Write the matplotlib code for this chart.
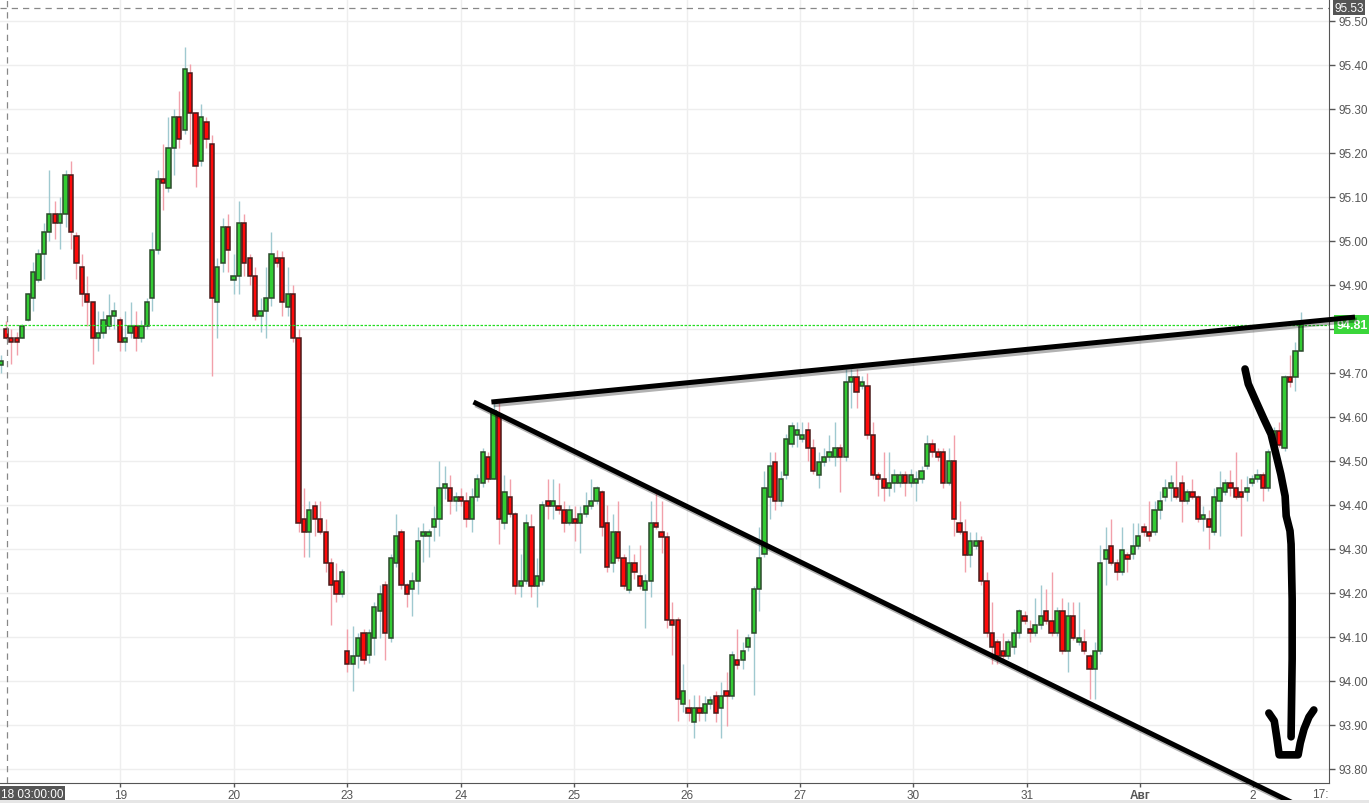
import numpy as np
import matplotlib
matplotlib.use("Agg")
import matplotlib.pyplot as plt
import matplotlib.patheffects as pe
from matplotlib.patches import Rectangle
from matplotlib.transforms import blended_transform_factory

# hourly candles (index = bar number)
opens = [
    94.718, 94.800, 94.780, 94.780, 94.780, 94.820, 94.870, 94.911, 94.970, 95.020,
    95.061, 95.041, 95.061, 95.150, 95.011, 94.941, 94.880, 94.861, 94.780, 94.791,
    94.807, 94.830, 94.820, 94.770, 94.791, 94.807, 94.780, 94.807, 94.870, 94.980,
    95.141, 95.120, 95.211, 95.282, 95.252, 95.382, 95.291, 95.182, 95.270, 95.220,
    94.861, 94.950, 95.032, 94.911, 94.920, 95.041, 94.961, 94.920, 94.830, 94.841,
    94.870, 94.961, 94.961, 94.850, 94.880, 94.780, 94.368, 94.339, 94.398, 94.368,
    94.339, 94.268, 94.227, 94.198, 94.068, 94.039, 94.057, 94.109, 94.059, 94.098,
    94.159, 94.218, 94.098, 94.268, 94.339, 94.218, 94.209, 94.227, 94.330, 94.330,
    94.350, 94.368, 94.439, 94.439, 94.409, 94.418, 94.409, 94.368, 94.418, 94.450,
    94.509, 94.459, 94.607, 94.359, 94.418, 94.380, 94.216, 94.227, 94.350, 94.216,
    94.227, 94.409, 94.398, 94.398, 94.389, 94.359, 94.368, 94.359, 94.380, 94.398,
    94.409, 94.430, 94.359, 94.268, 94.339, 94.280, 94.207, 94.268, 94.239, 94.207,
    94.227, 94.359, 94.339, 94.327, 94.139, 94.139, 93.948, 93.939, 93.907, 93.939,
    93.927, 93.948, 93.966, 93.939, 93.977, 93.966, 94.048, 94.048, 94.077, 94.109,
    94.209, 94.289, 94.418, 94.498, 94.409, 94.468, 94.539, 94.559, 94.550, 94.570,
    94.530, 94.468, 94.498, 94.509, 94.509, 94.530, 94.509, 94.680, 94.691, 94.670,
    94.670, 94.559, 94.468, 94.459, 94.439, 94.450, 94.450, 94.468, 94.450, 94.450,
    94.459, 94.489, 94.539, 94.520, 94.520, 94.450, 94.500, 94.359, 94.339, 94.286,
    94.307, 94.318, 94.227, 94.109, 94.089, 94.068, 94.057, 94.077, 94.109, 94.148,
    94.118, 94.109, 94.127, 94.159, 94.136, 94.109, 94.159, 94.068, 94.148, 94.089,
    94.089, 94.057, 94.027, 94.068, 94.277, 94.307, 94.268, 94.248, 94.286, 94.289,
    94.307, 94.350, 94.339, 94.339, 94.389, 94.418, 94.439, 94.439, 94.450, 94.409,
    94.430, 94.418, 94.368, 94.368, 94.339, 94.409, 94.430, 94.450, 94.439, 94.430,
    94.430, 94.450, 94.459, 94.468, 94.439, 94.539, 94.568, 94.530, 94.691, 94.691,
    94.750,
]
closes = [
    94.727, 94.780, 94.770, 94.770, 94.807, 94.880, 94.930, 94.970, 95.020, 95.061,
    95.041, 95.061, 95.150, 95.020, 94.950, 94.880, 94.861, 94.780, 94.791, 94.820,
    94.830, 94.841, 94.770, 94.780, 94.807, 94.780, 94.807, 94.861, 94.980, 95.141,
    95.132, 95.211, 95.282, 95.232, 95.391, 95.291, 95.170, 95.282, 95.232, 94.870,
    94.941, 95.032, 94.980, 94.920, 95.041, 94.950, 94.920, 94.830, 94.841, 94.870,
    94.970, 94.950, 94.861, 94.880, 94.780, 94.359, 94.339, 94.389, 94.368, 94.339,
    94.268, 94.218, 94.198, 94.248, 94.039, 94.057, 94.098, 94.048, 94.109, 94.168,
    94.198, 94.109, 94.280, 94.330, 94.218, 94.198, 94.227, 94.318, 94.339, 94.339,
    94.368, 94.439, 94.448, 94.409, 94.418, 94.409, 94.368, 94.418, 94.459, 94.520,
    94.459, 94.614, 94.368, 94.430, 94.380, 94.216, 94.227, 94.359, 94.216, 94.239,
    94.400, 94.398, 94.409, 94.389, 94.359, 94.389, 94.359, 94.380, 94.398, 94.409,
    94.439, 94.350, 94.259, 94.339, 94.280, 94.216, 94.268, 94.248, 94.216, 94.227,
    94.359, 94.350, 94.327, 94.139, 94.127, 93.959, 93.977, 93.927, 93.939, 93.927,
    93.948, 93.957, 93.927, 93.966, 93.966, 94.059, 94.036, 94.068, 94.098, 94.209,
    94.280, 94.439, 94.489, 94.409, 94.459, 94.550, 94.580, 94.570, 94.559, 94.530,
    94.477, 94.498, 94.509, 94.520, 94.530, 94.509, 94.680, 94.691, 94.657, 94.680,
    94.559, 94.468, 94.459, 94.439, 94.450, 94.468, 94.468, 94.450, 94.468, 94.459,
    94.477, 94.539, 94.520, 94.509, 94.450, 94.500, 94.368, 94.339, 94.286, 94.318,
    94.318, 94.227, 94.109, 94.077, 94.057, 94.057, 94.089, 94.109, 94.159, 94.136,
    94.109, 94.127, 94.148, 94.136, 94.109, 94.159, 94.068, 94.148, 94.098, 94.098,
    94.068, 94.027, 94.068, 94.268, 94.298, 94.268, 94.248, 94.298, 94.277, 94.307,
    94.330, 94.339, 94.330, 94.389, 94.409, 94.439, 94.450, 94.418, 94.409, 94.430,
    94.418, 94.368, 94.377, 94.350, 94.418, 94.439, 94.450, 94.439, 94.418, 94.418,
    94.439, 94.459, 94.468, 94.439, 94.520, 94.568, 94.536, 94.691, 94.680, 94.750,
    94.810,
]
highs = [
    94.741, 94.818, 94.800, 94.793, 94.811, 94.882, 94.952, 94.982, 95.041, 95.161,
    95.091, 95.100, 95.161, 95.182, 95.020, 94.970, 94.920, 94.861, 94.841, 94.841,
    94.880, 94.861, 94.827, 94.841, 94.861, 94.841, 94.820, 94.870, 95.020, 95.161,
    95.220, 95.282, 95.300, 95.341, 95.441, 95.402, 95.293, 95.311, 95.282, 95.241,
    94.961, 95.052, 95.061, 94.970, 95.091, 95.061, 94.970, 94.941, 94.870, 94.941,
    95.020, 94.980, 94.977, 94.941, 94.900, 94.800, 94.439, 94.409, 94.409, 94.409,
    94.368, 94.280, 94.268, 94.255, 94.118, 94.125, 94.109, 94.118, 94.118, 94.180,
    94.218, 94.227, 94.289, 94.380, 94.345, 94.223, 94.248, 94.350, 94.359, 94.345,
    94.398, 94.500, 94.489, 94.468, 94.430, 94.439, 94.430, 94.439, 94.470, 94.530,
    94.520, 94.634, 94.634, 94.468, 94.459, 94.384, 94.289, 94.380, 94.380, 94.280,
    94.409, 94.459, 94.459, 94.450, 94.409, 94.400, 94.398, 94.398, 94.430, 94.459,
    94.443, 94.434, 94.400, 94.380, 94.409, 94.289, 94.309, 94.289, 94.309, 94.243,
    94.409, 94.427, 94.409, 94.339, 94.180, 94.145, 94.039, 93.959, 93.968, 93.968,
    93.966, 93.966, 93.977, 93.998, 94.020, 94.068, 94.118, 94.089, 94.107, 94.216,
    94.350, 94.477, 94.520, 94.520, 94.477, 94.561, 94.589, 94.589, 94.589, 94.589,
    94.550, 94.520, 94.530, 94.559, 94.589, 94.539, 94.709, 94.709, 94.709, 94.693,
    94.700, 94.589, 94.475, 94.520, 94.520, 94.482, 94.477, 94.477, 94.482, 94.477,
    94.489, 94.559, 94.550, 94.530, 94.530, 94.530, 94.559, 94.409, 94.368, 94.339,
    94.339, 94.330, 94.248, 94.180, 94.095, 94.109, 94.095, 94.118, 94.164, 94.159,
    94.139, 94.189, 94.218, 94.209, 94.248, 94.168, 94.189, 94.180, 94.180, 94.180,
    94.118, 94.061, 94.089, 94.309, 94.350, 94.368, 94.277, 94.350, 94.293, 94.359,
    94.359, 94.359, 94.409, 94.409, 94.432, 94.459, 94.468, 94.500, 94.468, 94.436,
    94.459, 94.423, 94.398, 94.389, 94.439, 94.477, 94.459, 94.480, 94.520, 94.459,
    94.466, 94.468, 94.482, 94.475, 94.527, 94.577, 94.589, 94.695, 94.741, 94.770,
    94.839,
]
lows = [
    94.700, 94.777, 94.720, 94.741, 94.780, 94.818, 94.841, 94.907, 94.914, 95.000,
    95.005, 94.982, 95.032, 94.982, 94.914, 94.852, 94.807, 94.720, 94.750, 94.780,
    94.800, 94.800, 94.750, 94.750, 94.780, 94.750, 94.770, 94.800, 94.841, 94.970,
    95.070, 95.111, 95.150, 95.211, 95.243, 95.220, 95.123, 95.170, 95.211, 94.693,
    94.780, 94.930, 94.930, 94.880, 94.880, 94.920, 94.900, 94.820, 94.793, 94.780,
    94.852, 94.941, 94.830, 94.830, 94.770, 94.339, 94.282, 94.282, 94.330, 94.334,
    94.248, 94.127, 94.180, 94.191, 94.020, 93.977, 94.030, 94.039, 94.041, 94.059,
    94.098, 94.048, 94.089, 94.259, 94.209, 94.168, 94.148, 94.198, 94.270, 94.282,
    94.318, 94.330, 94.414, 94.380, 94.386, 94.398, 94.350, 94.339, 94.409, 94.441,
    94.452, 94.459, 94.311, 94.345, 94.373, 94.198, 94.191, 94.220, 94.191, 94.168,
    94.218, 94.368, 94.368, 94.380, 94.339, 94.355, 94.318, 94.291, 94.373, 94.391,
    94.402, 94.330, 94.248, 94.248, 94.273, 94.209, 94.200, 94.232, 94.209, 94.120,
    94.191, 94.345, 94.291, 94.120, 94.059, 93.909, 93.930, 93.909, 93.870, 93.909,
    93.909, 93.936, 93.907, 93.870, 93.898, 93.959, 94.027, 94.027, 94.068, 93.968,
    94.159, 94.282, 94.368, 94.389, 94.398, 94.459, 94.532, 94.532, 94.543, 94.500,
    94.470, 94.439, 94.489, 94.500, 94.489, 94.430, 94.500, 94.620, 94.620, 94.664,
    94.550, 94.459, 94.420, 94.409, 94.420, 94.430, 94.441, 94.420, 94.441, 94.409,
    94.450, 94.482, 94.509, 94.500, 94.439, 94.445, 94.330, 94.334, 94.248, 94.259,
    94.300, 94.218, 94.100, 94.039, 94.039, 94.050, 94.050, 94.061, 94.098, 94.130,
    94.089, 94.102, 94.118, 94.130, 94.102, 94.102, 94.061, 94.020, 94.093, 94.082,
    94.061, 93.959, 93.959, 94.061, 94.218, 94.264, 94.230, 94.241, 94.248, 94.277,
    94.300, 94.330, 94.318, 94.332, 94.368, 94.409, 94.409, 94.414, 94.361, 94.402,
    94.414, 94.361, 94.341, 94.300, 94.332, 94.330, 94.423, 94.420, 94.414, 94.330,
    94.409, 94.443, 94.452, 94.409, 94.432, 94.532, 94.532, 94.523, 94.668, 94.659,
    94.750,
]

day_pos = [22.1, 43.0, 63.9, 84.9, 105.8, 126.7, 147.6, 168.5, 189.4, 210.3, 231.2]
day_labels = ["19", "20", "23", "24", "25", "26", "27", "30", "31", "Авг", "2"]
y_ticks = [93.8, 93.9, 94.0, 94.1, 94.2, 94.3, 94.4, 94.5, 94.6, 94.7,
           94.8, 94.9, 95.0, 95.1, 95.2, 95.3, 95.4, 95.5]
last_price = 94.81
cross_price = 95.53
cross_bar = 1.1

# hand drawn marks (bar index, price)
upper_line_x = [90.6, 250.0]
upper_line_y = [94.634, 94.827]
lower_line_x = [87.3, 239.3]
lower_line_y = [94.634, 93.718]
arrow_x = [229.7, 230.3, 231.7, 233.2, 234.5, 235.4, 236.3, 237.1, 237.3, 238.0,
           238.2, 238.4, 238.4, 238.2]
arrow_y = [94.709, 94.675, 94.636, 94.595, 94.561, 94.516, 94.470, 94.420, 94.375,
           94.341, 94.311, 94.186, 94.050, 93.873]
hook_x = [234.1, 235.1, 235.6, 236.0, 239.5, 239.9, 240.6, 241.5, 242.4]
hook_y = [93.927, 93.909, 93.868, 93.832, 93.832, 93.859, 93.891, 93.918, 93.934]

GREEN = "#33cc33"
RED = "#ff0a0a"
FONT = "Liberation Sans"
FS = 8.5

fig = plt.figure(figsize=(13.69, 8.04), dpi=100)
ax = fig.add_axes([0, 20 / 804, 1329 / 1369, 784 / 804])

o = np.array(opens)
c = np.array(closes)
h = np.array(highs)
l = np.array(lows)
x = np.arange(len(o))
up = c >= o

ax.vlines(x[up], l[up], h[up], color="#9fc9d0", lw=1, zorder=2)
ax.vlines(x[~up], l[~up], h[~up], color="#f2a0aa", lw=1, zorder=2)

bot = np.minimum(o, c)
hgt = np.maximum(np.abs(c - o), 0.006)
ax.bar(x[up], hgt[up], bottom=bot[up], width=0.78, color=GREEN,
       edgecolor="#2c4a2c", linewidth=1.1, zorder=3)
ax.bar(x[~up], hgt[~up], bottom=bot[~up], width=0.78, color=RED,
       edgecolor="#4a1a1a", linewidth=1.1, zorder=3)

ax.set_xlim(-0.1, 245.2)
ax.set_ylim(93.768, 95.55)

ax.yaxis.tick_right()
ax.set_yticks(y_ticks)
# the 94.80 label sits under the last-price badge
ax.set_yticklabels(["" if abs(v - 94.8) < 1e-6 else "%.2f" % v for v in y_ticks])
ax.set_xticks(day_pos)
ax.set_xticklabels(day_labels)
for t in ax.get_xticklabels():
    if t.get_text() == "Авг":
        t.set_fontweight("bold")
ax.tick_params(axis="y", direction="out", length=4, pad=3, labelsize=FS,
               colors="#555555", width=1)
ax.tick_params(axis="x", direction="out", length=3, pad=1.5, labelsize=FS,
               colors="#555555", width=1)
for t in ax.get_yticklabels() + ax.get_xticklabels():
    t.set_fontfamily(FONT)

ax.grid(True, color="#eeeeee", lw=1, zorder=0)
for s in ["top", "left"]:
    ax.spines[s].set_visible(False)
ax.spines["right"].set_color("#555555")
ax.spines["bottom"].set_color("#555555")

# crosshair + last price line
ax.axhline(cross_price, color="#888888", lw=0.9, ls=(0, (5, 4)), zorder=4)
ax.axvline(cross_bar, color="#888888", lw=0.9, ls=(0, (5, 4)), zorder=4)
ax.axhline(last_price, color="#22dd22", lw=0.9, ls=(0, (2, 1.2)), zorder=4)

tr = blended_transform_factory(ax.transAxes, ax.transData)
ax.text(1.004, cross_price, "%.2f" % cross_price, transform=tr, va="center", ha="left",
        fontsize=FS, color="white", fontfamily=FONT, clip_on=False,
        bbox=dict(boxstyle="square,pad=0.12", fc="#555555", ec="none"), zorder=6)
ax.text(1.006, last_price, "%.2f" % last_price, transform=tr, va="center", ha="left",
        fontsize=9, color="white", fontweight="bold", fontfamily=FONT,
        clip_on=False, bbox=dict(boxstyle="square,pad=0.25", fc="#3ad63a", ec="none"),
        zorder=6)

trx = blended_transform_factory(ax.transData, ax.transAxes)
ax.text(0.0, -0.006, "18 03:00:00", transform=trx, va="top", ha="left", fontsize=FS,
        color="white", fontfamily=FONT, clip_on=False,
        bbox=dict(boxstyle="square,pad=0.15", fc="#555555", ec="none"), zorder=6)
ax.text(245.2, -0.006, "17:", transform=trx, va="top", ha="right", fontsize=FS,
        color="#555555", fontfamily=FONT, clip_on=False)

fig.patches.append(Rectangle((0, 0), 1, 3 / 804, transform=fig.transFigure,
                             fc="#e6e6e6", ec="none"))

shadow = [pe.SimpleLineShadow(offset=(1.5, -2), alpha=0.3), pe.Normal()]
ax.plot(upper_line_x, upper_line_y, color="black", lw=3.6, solid_capstyle="butt",
        clip_on=False, zorder=7, path_effects=shadow)
ax.plot(lower_line_x, lower_line_y, color="black", lw=3.6, solid_capstyle="butt",
        clip_on=False, zorder=7, path_effects=shadow)
ax.plot(arrow_x, arrow_y, color="black", lw=5.5, solid_capstyle="round",
        solid_joinstyle="round", zorder=7)
ax.plot(hook_x, hook_y, color="black", lw=5.5, solid_capstyle="round",
        solid_joinstyle="round", zorder=7)

fig.savefig("out.png", dpi=100)
